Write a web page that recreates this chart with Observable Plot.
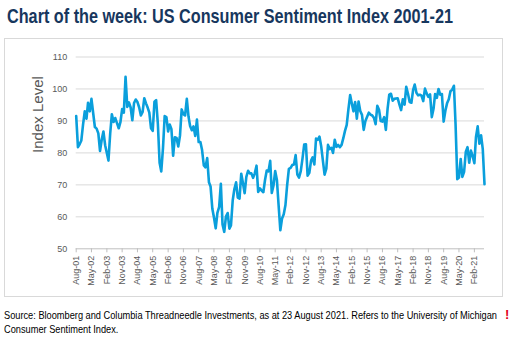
<!DOCTYPE html>
<html><head><meta charset="utf-8">
<script src="https://cdn.jsdelivr.net/npm/d3@7"></script>
<script src="https://cdn.jsdelivr.net/npm/@observablehq/plot@0.6"></script>
<style>
body{margin:0;background:#fff;width:524px;height:361px;position:relative;overflow:hidden;font-family:"Liberation Sans",Arial,sans-serif;}
#title{position:absolute;left:7px;top:4px;font-family:"Liberation Sans",Arial,sans-serif;font-weight:bold;font-size:21px;line-height:24px;color:#17375e;white-space:nowrap;transform-origin:0 0;}
#box{position:absolute;left:4px;top:38px;width:497px;height:257px;border:1px solid #d9d9d9;}
#box svg{display:block}
#foot{position:absolute;left:4px;top:308px;font-family:"Liberation Sans",Arial,sans-serif;font-size:10.7px;line-height:14px;color:#000;white-space:nowrap;transform-origin:0 0;}
#mark{position:absolute;left:505px;top:307px;font-family:"Liberation Sans",Arial,sans-serif;font-weight:bold;font-size:13px;color:#e2001a}
</style>
</head><body>
<div id="title">Chart of the week: US Consumer Sentiment Index 2001-21</div>
<div id="box"></div>
<div id="foot"><span id="foot1">Source: Bloomberg and Columbia Threadneedle Investments, as at 23 August 2021. Refers to the University of Michigan</span><br>Consumer Sentiment Index.</div>
<div id="mark">!</div>
<script>
// Monthly University of Michigan Consumer Sentiment, Aug 2001 - Aug 2021
const v2001 = [91.5, 81.8, 82.7, 83.9, 88.8];
const v2002 = [93.0, 90.7, 95.7, 93.0, 96.9, 92.4, 88.1, 87.6, 86.1, 80.6, 84.2, 86.7];
const v2003 = [82.4, 79.9, 77.6, 86.0, 92.1, 89.7, 90.9, 89.3, 87.7, 89.6, 93.7, 92.6];
const v2004 = [103.8, 94.4, 95.8, 94.2, 90.2, 95.6, 96.7, 95.9, 94.2, 91.7, 92.8, 97.1];
const v2005 = [95.5, 94.1, 92.6, 87.7, 86.9, 96.0, 96.5, 89.1, 76.9, 74.2, 81.6, 91.5];
const v2006 = [91.2, 86.7, 88.9, 87.4, 79.1, 84.9, 84.7, 82.0, 85.4, 93.6, 92.1, 91.7];
const v2007 = [96.9, 91.3, 88.4, 87.1, 88.3, 85.3, 90.4, 83.4, 83.4, 80.9, 76.1, 75.5];
const v2008 = [78.4, 70.8, 69.5, 62.6, 59.8, 56.4, 61.2, 63.0, 70.3, 57.6, 55.3, 60.1];
const v2009 = [61.2, 56.3, 57.3, 65.1, 68.7, 70.8, 66.0, 65.7, 73.5, 70.6, 67.4, 72.5];
const v2010 = [74.4, 73.6, 73.6, 72.2, 73.6, 76.0, 67.8, 68.9, 68.2, 67.7, 71.6, 74.5];
const v2011 = [74.2, 77.5, 67.5, 69.8, 74.3, 71.5, 63.7, 55.8, 59.5, 60.8, 63.7, 69.9];
const v2012 = [75.0, 75.3, 76.2, 76.4, 79.3, 73.2, 72.3, 74.3, 78.3, 82.6, 82.7, 72.9];
const v2013 = [73.8, 77.6, 78.6, 76.4, 84.5, 84.1, 85.1, 82.1, 77.5, 73.2, 75.1, 82.5];
const v2014 = [81.2, 81.6, 80.0, 84.1, 81.9, 82.5, 81.8, 82.5, 84.6, 86.9, 88.8, 93.6];
const v2015 = [98.1, 95.4, 93.0, 95.9, 90.7, 96.1, 93.1, 91.9, 87.2, 90.0, 91.3, 92.6];
const v2016 = [92.0, 91.7, 91.0, 89.0, 94.7, 93.5, 90.0, 89.8, 91.2, 87.2, 93.8, 98.2];
const v2017 = [98.5, 96.3, 96.9, 97.0, 97.1, 95.1, 93.4, 96.8, 95.1, 100.7, 98.5, 95.9];
const v2018 = [95.7, 99.7, 101.4, 98.8, 98.0, 98.2, 97.9, 96.2, 100.1, 98.6, 97.5, 98.3];
const v2019 = [91.2, 93.8, 98.4, 97.2, 100.0, 98.2, 98.4, 89.8, 93.2, 95.5, 96.8, 99.3];
const v2020 = [99.8, 101.0, 89.1, 71.8, 72.3, 78.1, 72.5, 74.1, 80.4, 81.8, 76.9, 80.7];
const v2021 = [79.0, 76.8, 84.9, 88.3, 82.9, 85.5, 81.2, 70.2];

const tickLabels = ["Aug-01","May-02","Feb-03","Nov-03","Aug-04","May-05","Feb-06","Nov-06","Aug-07",
  "May-08","Feb-09","Nov-09","Aug-10","May-11","Feb-12","Nov-12","Aug-13","May-14","Feb-15","Nov-15",
  "Aug-16","May-17","Feb-18","Nov-18","Aug-19","May-20","Feb-21"];
const yTicks = [50, 60, 70, 80, 90, 100, 110];

const values = [].concat(v2001, v2002, v2003, v2004, v2005, v2006, v2007, v2008, v2009, v2010,
  v2011, v2012, v2013, v2014, v2015, v2016, v2017, v2018, v2019, v2020, v2021);
const data = values.map((v, i) => ({date: new Date(Date.UTC(2001, 7 + i, 1)), value: v}));

const monthIdx = {Jan:0,Feb:1,Mar:2,Apr:3,May:4,Jun:5,Jul:6,Aug:7,Sep:8,Oct:9,Nov:10,Dec:11};
const tickDates = tickLabels.map(s => new Date(Date.UTC(2000 + +s.slice(4), monthIdx[s.slice(0,3)], 1)));
const labelMap = new Map(tickDates.map((d, i) => [+d, tickLabels[i]]));

const chart = Plot.plot({
  width: 497, height: 257,
  marginLeft: 70.7, marginRight: 18, marginTop: 17.5, marginBottom: 47.7,
  style: {fontFamily: "'Liberation Sans', Arial, sans-serif", fontSize: "9px", color: "#595959", background: "#fff"},
  x: {type: "utc", domain: [data[0].date, data[data.length - 1].date]},
  y: {domain: [50, 110]},
  marks: [
    Plot.ruleY(yTicks.filter(t => t > 50), {stroke: "#d9d9d9", strokeWidth: 1}),
    Plot.ruleY([50], {stroke: "#bfbfbf", strokeWidth: 1}),
    Plot.axisY({ticks: yTicks, tickSize: 0, tickPadding: 9, label: null, fill: "#595959"}),
    Plot.axisX({ticks: tickDates, tickFormat: d => labelMap.get(+d), tickSize: 4, tickPadding: 3,
      tickRotate: -90, label: null, stroke: "#bfbfbf", fill: "#595959"}),
    Plot.line(data, {x: "date", y: "value", stroke: "#0a9fdc", strokeWidth: 2.6, strokeLinejoin: "round"}),
    Plot.text(["Index Level"], {frameAnchor: "left", dx: -38, rotate: -90, fontSize: 15, fill: "#595959"})
  ]
});
document.getElementById("box").appendChild(chart);

// condense title and footer text horizontally to match the narrow typeface of the reference
function fit(el, measureEl, target) {
  const w = measureEl.getBoundingClientRect().width;
  el.style.transform = `scaleX(${target / w})`;
}
fit(document.getElementById("title"), document.getElementById("title"), 446);
fit(document.getElementById("foot"), document.getElementById("foot1"), 493);
</script>
</body></html>
